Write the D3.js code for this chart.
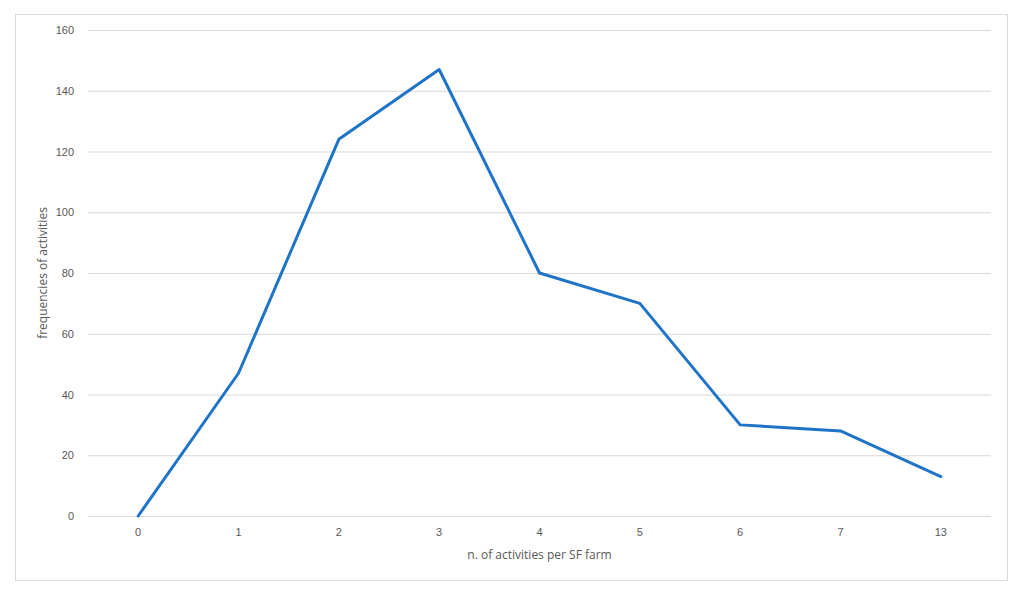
<!DOCTYPE html>
<html><head><meta charset="utf-8">
<script src="https://cdn.jsdelivr.net/npm/d3@7"></script>
<style>body{margin:0;background:#fff;}svg{display:block;font-family:"Open Sans",sans-serif;}</style>
</head><body>
<svg id="c" width="1024" height="597"></svg>
<script>
const categories = ["0","1","2","3","4","5","6","7","13"];
const values = [0, 47, 124, 147, 80, 70, 30, 28, 13];
const yTicks = [0, 20, 40, 60, 80, 100, 120, 140, 160];
const xTitle = "n. of activities per SF farm";
const yTitle = "frequencies of activities";

const svg = d3.select("#c");
const L = 88, R = 991, T = 30, B = 516;
svg.append("rect").attr("x",15.5).attr("y",14.5).attr("width",992).attr("height",566)
  .attr("fill","#fff").attr("stroke","#d9d9d9").attr("stroke-width",1);

const x = d3.scaleBand().domain(categories).range([L, R]);
const y = d3.scaleLinear().domain([0,160]).range([B, T]);

const gy = svg.append("g").attr("transform",`translate(${L},0)`)
  .call(d3.axisLeft(y).tickValues(yTicks).tickSize(-(R-L)).tickPadding(14));
gy.select(".domain").remove();
gy.selectAll(".tick line").attr("stroke","#d9d9d9").attr("stroke-width",1);
gy.selectAll(".tick text").attr("fill","#595959").attr("font-size","11px");

const gx = svg.append("g").attr("transform",`translate(0,${B})`)
  .call(d3.axisBottom(x).tickSize(0).tickPadding(12));
gx.select(".domain").remove();
gx.selectAll(".tick text").attr("fill","#595959").attr("font-size","11px");

svg.append("text").attr("x",(L+R)/2).attr("y",559).attr("text-anchor","middle")
  .attr("fill","#595959").attr("font-size","12px").text(xTitle);
svg.append("text").attr("transform",`translate(47,${(T+B)/2}) rotate(-90)`).attr("text-anchor","middle")
  .attr("fill","#595959").attr("font-size","12px").text(yTitle);

const line = d3.line().x((d,i)=>x(categories[i])+x.bandwidth()/2).y(d=>y(d));
svg.append("path").datum(values).attr("d",line).attr("fill","none")
  .attr("stroke","#1f74c8").attr("stroke-width",3).attr("stroke-linejoin","round").attr("stroke-linecap","round");
</script>
</body></html>
